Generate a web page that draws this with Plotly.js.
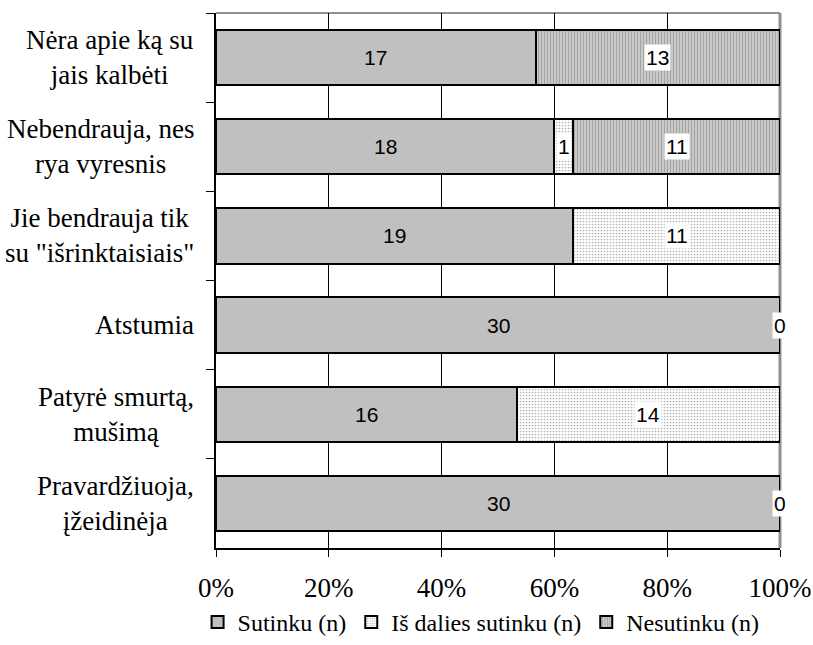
<!DOCTYPE html>
<html>
<head>
<meta charset="utf-8">
<script src="https://cdn.plot.ly/plotly-3.0.1.min.js"></script>
<style>html,body{margin:0;padding:0;background:#fff;}#chart{width:813px;height:645px;}</style>
</head>
<body>
<div id="chart"></div>
<script>
var categories = ['Nėra apie ką su<br>jais kalbėti', 'Nebendrauja, nes<br>rya vyresnis', 'Jie bendrauja tik<br>su "išrinktaisiais"', 'Atstumia', 'Patyrė smurtą,<br>mušimą', 'Pravardžiuoja,<br>įžeidinėja'];
var seriesNames = ['Sutinku (n)', 'Iš dalies sutinku (n)', 'Nesutinku (n)'];
var sutinku = [17, 18, 19, 30, 16, 30];
var dalies = [null, 1, 11, null, 14, null];
var nesutinku = [13, 11, null, 0, null, 0];
var xTicks = [0, 20, 40, 60, 80, 100];

var serif = "'Liberation Serif', 'Times New Roman', serif";
var sans = "'Liberation Sans', Arial, sans-serif";
var series = [sutinku, dalies, nesutinku];
var markers = [
  {color: '#c0c0c0', line: {color: '#000', width: 2}},
  {color: '#ffffff', line: {color: '#000', width: 2}, pattern: {shape: '.', fgcolor: '#b0b0b0', bgcolor: '#ffffff', size: 3, solidity: 0.25}},
  {color: '#c8c8c8', line: {color: '#000', width: 2}, pattern: {shape: '|', fgcolor: '#a4a4a4', bgcolor: '#d0d0d0', size: 3, solidity: 0.45}}
];

var traces = series.map(function (vals, i) {
  return {
    type: 'bar', orientation: 'h', name: seriesNames[i],
    y: categories, x: vals, marker: markers[i],
    hoverinfo: 'skip'
  };
});

var annotations = [];
categories.forEach(function (cat, j) {
  var total = 0;
  series.forEach(function (s) { if (s[j] != null) total += s[j]; });
  var cum = 0;
  series.forEach(function (s, i) {
    var v = s[j];
    if (v == null) return;
    var mid = (cum + v / 2) / total * 100;
    cum += v;
    var a = {
      x: mid, y: cat, xref: 'x', yref: 'y', text: String(v), showarrow: false,
      font: {family: sans, size: 21, color: '#000'}
    };
    if (i > 0) { a.bgcolor = '#ffffff'; a.borderpad = 1; }
    annotations.push(a);
  });
  annotations.push({
    x: 0, xref: 'paper', y: cat, yref: 'y', xanchor: 'right', xshift: -20,
    text: cat, showarrow: false, align: 'center',
    font: {family: serif, size: 27, color: '#000'}
  });
});

var layout = {
  width: 813, height: 645,
  margin: {l: 216, r: 33, t: 13, b: 97},
  paper_bgcolor: '#fff', plot_bgcolor: '#fff',
  barmode: 'stack', barnorm: 'percent', bargap: 0.38,
  showlegend: true,
  legend: {
    orientation: 'h', x: 0.47, xanchor: 'center', xref: 'paper',
    yref: 'container', y: -0.012, yanchor: 'bottom',
    traceorder: 'normal', font: {family: serif, size: 24, color: '#000'},
    itemwidth: 30, tracegroupgap: 0
  },
  xaxis: {
    range: [0, 100], tickvals: xTicks, ticktext: xTicks.map(function (t) { return t + '%'; }),
    showgrid: true, gridcolor: '#000', gridwidth: 1,
    zeroline: false, showline: true, linecolor: '#000', linewidth: 2,
    ticks: 'outside', ticklen: 7, tickcolor: '#000', tickwidth: 1, ticklabelstandoff: 8,
    tickfont: {family: serif, size: 27, color: '#000'}, fixedrange: true, automargin: false
  },
  yaxis: {
    type: 'category', autorange: 'reversed', showticklabels: false,
    showgrid: false, zeroline: false, showline: true, linecolor: '#000', linewidth: 2,
    ticks: 'outside', tickson: 'boundaries', ticklen: 8, tickcolor: '#000', tickwidth: 1,
    fixedrange: true, automargin: false
  },
  shapes: [
    {type: 'line', xref: 'paper', yref: 'paper', x0: 0, x1: 1, y0: 1, y1: 1, line: {color: '#909090', width: 2}, layer: 'below'},
    {type: 'line', xref: 'paper', yref: 'paper', x0: 1, x1: 1, y0: 0, y1: 1, line: {color: '#909090', width: 3}, layer: 'below'}
  ],
  annotations: annotations
};

Plotly.newPlot('chart', traces, layout, {displayModeBar: false, staticPlot: true});
</script>
</body>
</html>
